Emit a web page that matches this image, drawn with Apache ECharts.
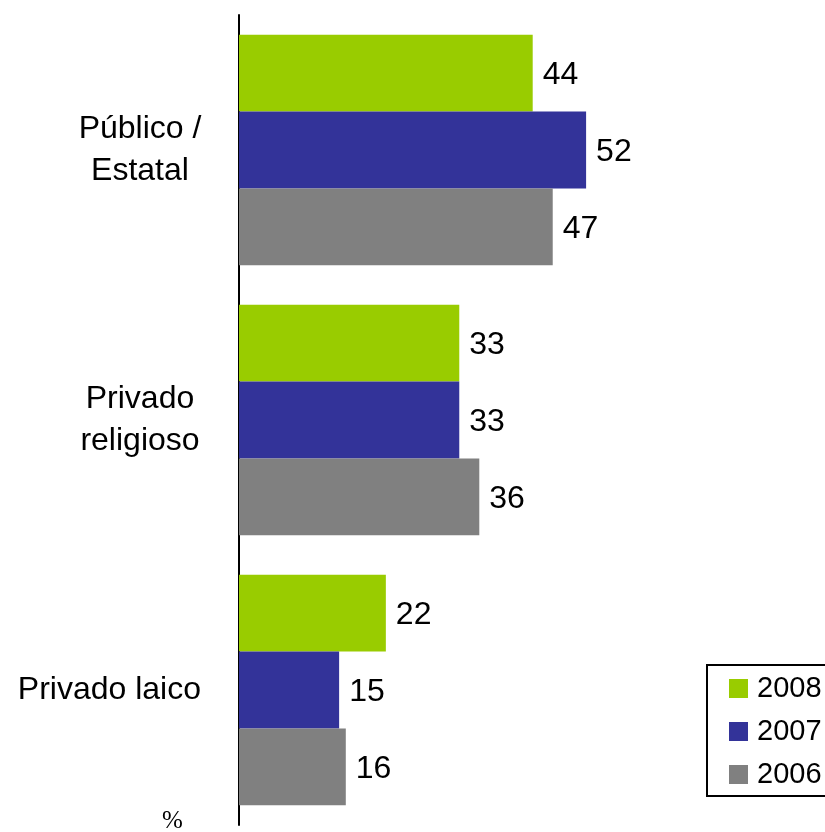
<!DOCTYPE html>
<html>
<head>
<meta charset="UTF-8">
<title>Tipo de establecimiento</title>
<script type="text/javascript" src="https://cdn.jsdelivr.net/npm/echarts@6/dist/echarts.min.js"></script>
<style>
  html, body { margin: 0; padding: 0; background: #fff; }
  #chart { width: 825px; height: 832px; }
</style>
</head>
<body>
<div id="chart"></div>
<script type="text/javascript">
  // categorias y valores (%)
  var categorias = ['Público /\nEstatal', 'Privado\nreligioso', 'Privado laico'];
  var anios = ['2008', '2007', '2006'];
  var v2008 = [44, 33, 22];
  var v2007 = [52, 33, 15];
  var v2006 = [47, 36, 16];
  var colores = ['#99CC00', '#333399', '#808080'];

  var chart = echarts.init(document.getElementById('chart'));

  function serie(nombre, datos, color) {
    return {
      name: nombre,
      type: 'bar',
      data: datos,
      barGap: '0%',
      barCategoryGap: '14.7%',
      itemStyle: { color: color },
      label: {
        show: true,
        position: 'right',
        distance: 10,
        offset: [0, 2],
        color: '#000',
        fontFamily: 'Liberation Sans',
        fontSize: 32
      }
    };
  }

  var option = {
    animation: false,
    backgroundColor: '#fff',
    grid: { left: 239, right: 52, top: 15, bottom: 7 },
    xAxis: {
      type: 'value',
      min: 0,
      max: 80,
      show: false
    },
    yAxis: {
      type: 'category',
      inverse: true,
      data: categorias,
      axisLine: { lineStyle: { color: '#000', width: 2 } },
      axisTick: { show: false },
      axisLabel: {
        margin: 38,
        align: 'right',
        color: '#000',
        fontFamily: 'Liberation Sans',
        fontSize: 32,
        lineHeight: 42,
        formatter: function (v) {
          if (v.indexOf('\n') < 0) return v;
          return v.split('\n').map(function (s) { return '{c|' + s + '}'; }).join('\n');
        },
        rich: {
          c: {
            width: 122,
            align: 'center',
            color: '#000',
            fontFamily: 'Liberation Sans',
            fontSize: 32,
            lineHeight: 42
          }
        }
      }
    },
    legend: {
      orient: 'vertical',
      left: 707,
      top: 665,
      data: anios,
      icon: 'rect',
      itemWidth: 19,
      itemHeight: 19,
      itemGap: 14,
      padding: [9, 20, 7, 22],
      borderColor: '#000',
      borderWidth: 2,
      textStyle: { color: '#000', fontFamily: 'Liberation Sans', fontSize: 29, padding: [0, 0, 0, 4] }
    },
    graphic: [{
      type: 'text',
      left: 162,
      top: 809,
      style: { text: '%', fill: '#000', font: '25px "Liberation Serif"' }
    }],
    series: [
      serie(anios[0], v2008, colores[0]),
      serie(anios[1], v2007, colores[1]),
      serie(anios[2], v2006, colores[2])
    ]
  };
  chart.setOption(option);
</script>
</body>
</html>
